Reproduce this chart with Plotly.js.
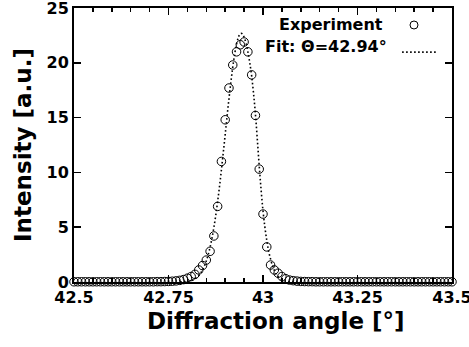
<!DOCTYPE html>
<html>
<head>
<meta charset="utf-8">
<script src="https://cdn.plot.ly/plotly-3.0.1.min.js"></script>
<style>html,body{margin:0;padding:0;background:#fff;}#chart{width:469px;height:347px;}</style>
</head>
<body>
<div id="chart"></div>
<script>
// Experimental points: diffraction angle [deg] and intensity [a.u.]
const expAngle = [
  42.50, 42.51, 42.52, 42.53, 42.54, 42.55, 42.56, 42.57, 42.58, 42.59,
  42.60, 42.61, 42.62, 42.63, 42.64, 42.65, 42.66, 42.67, 42.68, 42.69,
  42.70, 42.71, 42.72, 42.73, 42.74, 42.75, 42.76, 42.77, 42.78, 42.79,
  42.80, 42.81, 42.82, 42.83, 42.84, 42.85, 42.86, 42.87, 42.88, 42.89,
  42.90, 42.91, 42.92, 42.93, 42.94, 42.95, 42.96, 42.97, 42.98, 42.99,
  43.00, 43.01, 43.02, 43.03, 43.04, 43.05, 43.06, 43.07, 43.08, 43.09,
  43.10, 43.11, 43.12, 43.13, 43.14, 43.15, 43.16, 43.17, 43.18, 43.19,
  43.20, 43.21, 43.22, 43.23, 43.24, 43.25, 43.26, 43.27, 43.28, 43.29,
  43.30, 43.31, 43.32, 43.33, 43.34, 43.35, 43.36, 43.37, 43.38, 43.39,
  43.40, 43.41, 43.42, 43.43, 43.44, 43.45, 43.46, 43.47, 43.48, 43.49,
  43.50
];
const expIntensity = [
  0.02, 0.02, 0.02, 0.02, 0.02, 0.02, 0.02, 0.02, 0.02, 0.02,
  0.02, 0.02, 0.02, 0.02, 0.02, 0.02, 0.02, 0.02, 0.02, 0.02,
  0.02, 0.02, 0.03, 0.03, 0.04, 0.05, 0.07, 0.10, 0.15, 0.22,
  0.35, 0.50, 0.70, 1.10, 1.50, 2.00, 2.80, 4.20, 6.90, 11.0,
  14.8, 17.7, 19.8, 21.0, 21.65, 21.9, 21.0, 18.9, 15.2, 10.3,
  6.2, 3.2, 1.55, 1.10, 0.80, 0.50, 0.30, 0.18, 0.12, 0.08,
  0.05, 0.04, 0.03, 0.03, 0.02, 0.02, 0.02, 0.02, 0.02, 0.02,
  0.02, 0.02, 0.02, 0.02, 0.02, 0.02, 0.02, 0.02, 0.02, 0.02,
  0.02, 0.02, 0.02, 0.02, 0.02, 0.02, 0.02, 0.02, 0.02, 0.02,
  0.02, 0.02, 0.02, 0.02, 0.02, 0.02, 0.02, 0.02, 0.02, 0.02,
  0.02
];
// Fit curve
const fitAngle = [
  42.78, 42.79, 42.80, 42.81, 42.82, 42.83, 42.835, 42.84, 42.845, 42.85,
  42.855, 42.86, 42.865, 42.87, 42.875, 42.88, 42.885, 42.89, 42.895, 42.90,
  42.905, 42.91, 42.915, 42.92, 42.925, 42.93, 42.935, 42.94, 42.945, 42.95,
  42.955, 42.96, 42.965, 42.97, 42.975, 42.98, 42.985, 42.99, 42.995, 43.00,
  43.005, 43.01, 43.015, 43.02, 43.025, 43.03, 43.035, 43.04, 43.045, 43.05,
  43.06, 43.07, 43.08, 43.09
];
const fitIntensity = [
  0.01, 0.03, 0.06, 0.14, 0.30, 0.59, 0.81, 1.09, 1.46, 1.92,
  2.49, 3.18, 4.00, 4.97, 6.08, 7.34, 8.74, 10.24, 11.83, 13.47,
  15.12, 16.73, 18.24, 19.61, 20.78, 21.70, 22.33, 22.66, 22.66, 22.33,
  21.8, 21.0, 20.0, 18.8, 17.2, 15.3, 13.0, 10.6, 8.4, 6.5,
  5.0, 3.8, 2.8, 2.1, 1.5, 1.05, 0.72, 0.48, 0.32, 0.20,
  0.08, 0.03, 0.01, 0.005
];
const xTickVals = [42.5, 42.75, 43, 43.25, 43.5];
const xTickText = ['42.5', '42.75', '43', '43.25', '43.5'];
const yTickVals = [0, 5, 10, 15, 20, 25];
const yTickText = ['0', '5', '10', '15', '20', '25'];
const legendLabels = ['Experiment', 'Fit: \u0398=42.94\u00b0'];
const xTitle = 'Diffraction angle [\u00b0]';
const yTitle = 'Intensity [a.u.]';

const FONT = 'DejaVu Sans, Liberation Sans, Arial, sans-serif';

const traces = [
  {
    x: expAngle, y: expIntensity, type: 'scatter', mode: 'markers',
    name: legendLabels[0], cliponaxis: false, showlegend: false,
    marker: {symbol: 'circle-open', size: 8.5, color: '#000', line: {width: 1, color: '#000'}}
  },
  {
    x: fitAngle, y: fitIntensity, type: 'scatter', mode: 'lines',
    name: legendLabels[1], showlegend: false,
    line: {color: '#000', width: 1.6, dash: '1.6px,2.4px', shape: 'spline'}
  }
];

const axisCommon = {
  showgrid: false, zeroline: false, showline: true, linecolor: '#000', linewidth: 2,
  mirror: 'allticks', ticks: 'inside', tickcolor: '#000', tickwidth: 1.5, ticklen: 7,
  ticklabeloverflow: 'allow',
  tickfont: {family: FONT, size: 16, color: '#000', weight: 'bold'}
};

const layout = {
  width: 469, height: 347,
  margin: {l: 74, r: 17, t: 8, b: 65},
  paper_bgcolor: '#fff', plot_bgcolor: '#fff',
  showlegend: false,
  xaxis: Object.assign({}, axisCommon, {
    range: [42.5, 43.5], tickmode: 'array', tickvals: xTickVals, ticktext: xTickText,
    minor: {tick0: 42.5, dtick: 0.05, ticks: 'inside', ticklen: 4, tickwidth: 1.5, tickcolor: '#000', showgrid: false}
  }),
  yaxis: Object.assign({}, axisCommon, {
    range: [0, 25], tickmode: 'array', tickvals: yTickVals, ticktext: yTickText,
    title: {text: yTitle, standoff: 8, font: {family: FONT, size: 23, color: '#000', weight: 'bold'}}
  }),
  annotations: [
    {xref: 'paper', yref: 'paper', x: 0.534, y: -0.142, xanchor: 'center', yanchor: 'middle',
     text: xTitle, showarrow: false, font: {family: FONT, size: 23, color: '#000', weight: 'bold'}},
    {xref: 'paper', yref: 'paper', x: 0.823, y: 0.941, xanchor: 'right', yanchor: 'middle',
     text: legendLabels[0], showarrow: false, font: {family: FONT, size: 16, color: '#000', weight: 'bold'}},
    {xref: 'paper', yref: 'paper', x: 0.834, y: 0.861, xanchor: 'right', yanchor: 'middle',
     text: legendLabels[1], showarrow: false, font: {family: FONT, size: 16, color: '#000', weight: 'bold'}}
  ],
  shapes: [
    {type: 'circle', xref: 'paper', yref: 'paper', xsizemode: 'pixel', ysizemode: 'pixel',
     xanchor: 0.8995, yanchor: 0.938, x0: -4, x1: 4, y0: -4, y1: 4,
     line: {color: '#000', width: 1}},
    {type: 'line', xref: 'paper', yref: 'paper', x0: 0.868, x1: 0.960, y0: 0.839, y1: 0.839,
     line: {color: '#000', width: 1.6, dash: '1.6px,2.4px'}}
  ]
};

Plotly.newPlot('chart', traces, layout, {displayModeBar: false, staticPlot: true});
</script>
</body>
</html>
